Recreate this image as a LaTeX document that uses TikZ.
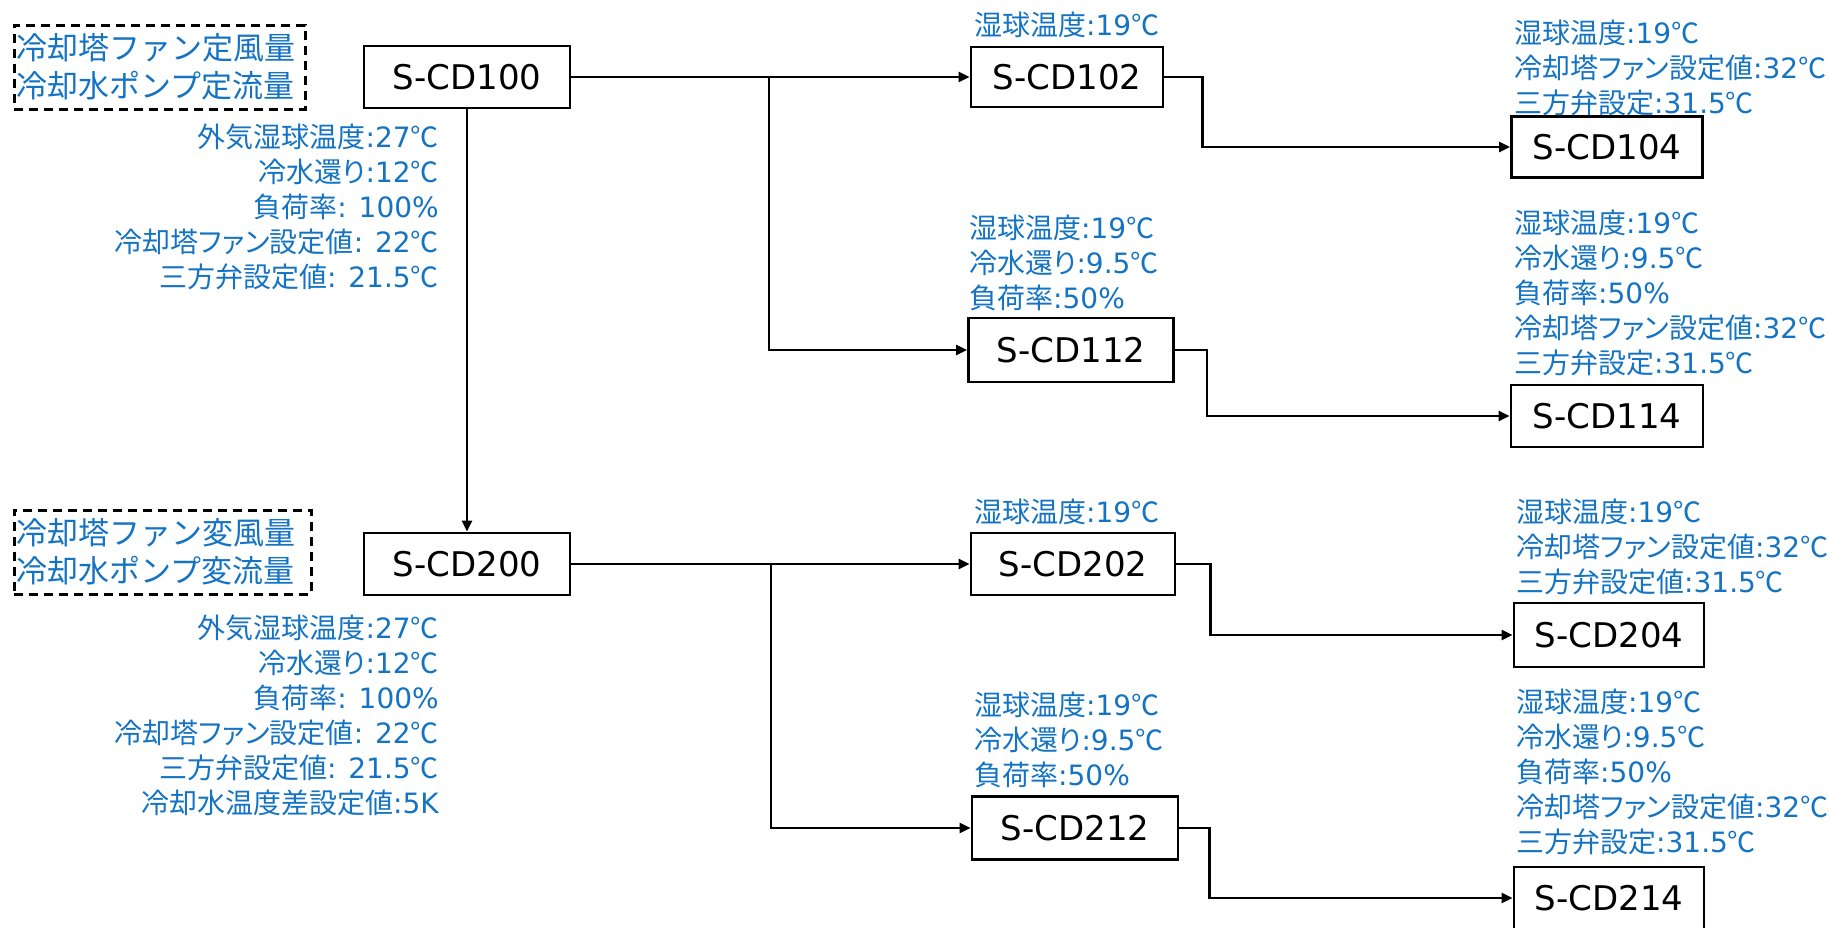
\documentclass[tikz,border=0pt]{standalone}
\usepackage{fontspec}
\setmainfont{DejaVu Sans}
\newfontfamily\jpfont[RawFeature=+palt]{Noto Sans CJK JP}
\newfontfamily\jpfontw{Noto Sans CJK JP}
\newfontfamily\dvfont{DejaVu Sans}
\usetikzlibrary{arrows.meta}
\definecolor{lblblue}{RGB}{20,115,195}
\newcommand\dv[1]{{\dvfont #1}}
\newcommand\dgc{{\jpfontw ℃}}
\begin{document}
\begin{tikzpicture}[x=1pt,y=-1pt,
  box/.style={draw, line width=2.8pt, minimum height=62pt, inner sep=0pt, font=\dvfont\fontsize{34}{40}\selectfont},
  lbl/.style={text=lblblue, inner sep=0pt, font=\jpfont\fontsize{28}{35}\selectfont},
  conn/.style={line width=2.5pt, -{Triangle[length=11pt,width=10pt]}},
  mode/.style={draw, dash pattern=on 9pt off 6pt, line width=2.5pt, text=lblblue, font=\jpfontw\fontsize{31}{38}\selectfont, inner xsep=2pt, inner ysep=0pt, align=left, anchor=north west, minimum height=84pt}
]
\useasboundingbox (0,0) rectangle (1829,927);

% mode boxes
\node[mode, text width=287pt] (m1) at (13,24) {冷却塔ファン定風量\\冷却水ポンプ定流量};
\node[mode, text width=293pt] (m2) at (13,509) {冷却塔ファン変風量\\冷却水ポンプ変流量};

% boxes
\node[box, minimum width=206pt] (n100) at (467,77) {S-CD100};
\node[box, minimum width=192pt, minimum height=60pt] (n102) at (1067,77) {S-CD102};
\node[box, minimum width=191pt, minimum height=61pt] (n104) at (1607,147) {S-CD104};
\node[box, minimum width=205pt, minimum height=64pt] (n112) at (1071,350) {S-CD112};
\node[box, minimum width=192pt] (n114) at (1607,416) {S-CD114};
\node[box, minimum width=206pt] (n200) at (467,564) {S-CD200};
\node[box, minimum width=204pt] (n202) at (1073,564) {S-CD202};
\node[box, minimum width=190pt, minimum height=64pt] (n204) at (1609,635) {S-CD204};
\node[box, minimum width=206pt, minimum height=63pt] (n212) at (1075,828) {S-CD212};
\node[box, minimum width=190pt] (n214) at (1609,898) {S-CD214};

% labels
\node[lbl, anchor=north east, align=right] (l100) at (439,124) {外気湿球温度\dv{:27}\dgc\\冷水還り\dv{:12}\dgc\\負荷率\dv{: 100\%}\\冷却塔ファン設定値\dv{: 22}\dgc\\三方弁設定値\dv{: 21.5}\dgc};
\node[lbl, anchor=north east, align=right] (l200) at (439,615) {外気湿球温度\dv{:27}\dgc\\冷水還り\dv{:12}\dgc\\負荷率\dv{: 100\%}\\冷却塔ファン設定値\dv{: 22}\dgc\\三方弁設定値\dv{: 21.5}\dgc\\冷却水温度差設定値\dv{:5K}};
\node[lbl, anchor=north west, align=left] (l102) at (974,12) {湿球温度\dv{:19}\dgc};
\node[lbl, anchor=north west, align=left] (l104) at (1514,20) {湿球温度\dv{:19}\dgc\\冷却塔ファン設定値\dv{:32}\dgc\\三方弁設定\dv{:31.5}\dgc};
\node[lbl, anchor=north west, align=left] (l112) at (969,215) {湿球温度\dv{:19}\dgc\\冷水還り\dv{:9.5}\dgc\\負荷率\dv{:50\%}};
\node[lbl, anchor=north west, align=left] (l114) at (1514,210) {湿球温度\dv{:19}\dgc\\冷水還り\dv{:9.5}\dgc\\負荷率\dv{:50\%}\\冷却塔ファン設定値\dv{:32}\dgc\\三方弁設定\dv{:31.5}\dgc};
\node[lbl, anchor=north west, align=left] (l202) at (974,499) {湿球温度\dv{:19}\dgc};
\node[lbl, anchor=north west, align=left] (l204) at (1516,499) {湿球温度\dv{:19}\dgc\\冷却塔ファン設定値\dv{:32}\dgc\\三方弁設定値\dv{:31.5}\dgc};
\node[lbl, anchor=north west, align=left] (l212) at (974,692) {湿球温度\dv{:19}\dgc\\冷水還り\dv{:9.5}\dgc\\負荷率\dv{:50\%}};
\node[lbl, anchor=north west, align=left] (l214) at (1516,689) {湿球温度\dv{:19}\dgc\\冷水還り\dv{:9.5}\dgc\\負荷率\dv{:50\%}\\冷却塔ファン設定値\dv{:32}\dgc\\三方弁設定\dv{:31.5}\dgc};

% connectors
\coordinate (j1) at (769,77);
\coordinate (j2) at (771,564);
\draw[conn] (n100.east) -- (n102.west);
\draw[conn] (j1) |- (n112.west);
\draw[conn] (n100.south) -- (n200.north);
\draw[conn] (n200.east) -- (n202.west);
\draw[conn] (j2) |- (n212.west);
\draw[conn] (n102.east) -- ++(38,0) |- (n104.west);
\draw[conn] (n112.east) -- ++(32,0) |- (n114.west);
\draw[conn] (n202.east) -- ++(34,0) |- (n204.west);
\draw[conn] (n212.east) -- ++(30,0) |- (n214.west);
\end{tikzpicture}
\end{document}
